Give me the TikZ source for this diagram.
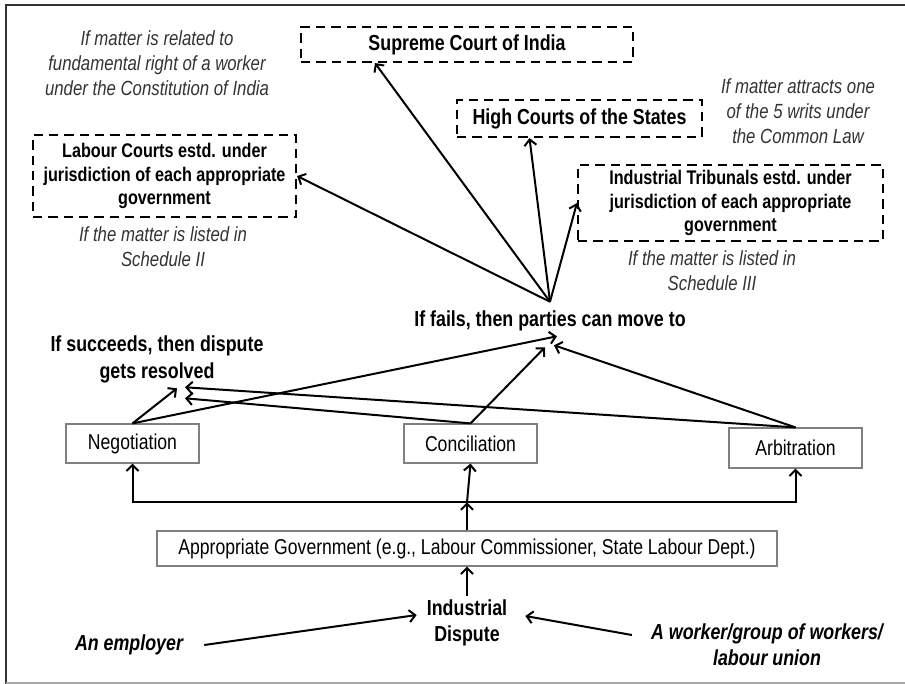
\documentclass[tikz,border=0pt]{standalone}
\usepackage{fontspec}
\setmainfont{Liberation Sans}[FakeStretch=0.82]
\usetikzlibrary{positioning, arrows.meta, calc}

\tikzset{
  court/.style={draw, dash pattern=on 7pt off 4.5pt, line width=1.6pt, inner sep=0pt,
                align=center, font=\bfseries\fontsize{16.3}{17.3}\selectfont},
  stage/.style={draw=black!50, line width=0.9pt, inner sep=0pt, minimum width=99.75pt,
                minimum height=29.25pt, font=\fontsize{16.1}{18}\selectfont},
  note/.style={align=center, inner sep=2pt, text=black!80,
               font=\itshape\fontsize{15.35}{18.75}\selectfont},
  head/.style={align=center, inner sep=3pt, font=\bfseries\fontsize{16.3}{20}\selectfont},
  flow/.style={line width=1.5pt, -{Straight Barb[length=4.5pt, width=9pt]}},
}

\begin{document}
\begin{tikzpicture}[x=0.75pt, y=-0.75pt]
  \useasboundingbox (0,0) rectangle (905,684);
  \draw[black!80, line width=1.5pt] (6,684) -- (6,5) -- (905,5);
  \draw[black!35, line width=1.2pt] (6,683) -- (905,683);

  % courts
  \node[court, minimum width=249pt, minimum height=26.25pt] (supreme) at (467,44.5) {Supreme Court of India};
  \node[court, minimum width=183.75pt, minimum height=27.75pt] (high) at (579.5,118.5) {High Courts of the States};
  \node[court, minimum width=197.25pt, minimum height=61.5pt, font=\bfseries\fontsize{14.8}{17.3}\selectfont]
    (labour) at (164.5,176) {Labour Courts estd. under\\jurisdiction of each appropriate\\government};
  \node[court, minimum width=228.75pt, minimum height=57pt, font=\bfseries\fontsize{14.8}{17.3}\selectfont]
    (tribunal) at (730.5,203) {Industrial Tribunals estd. under\\jurisdiction of each appropriate\\government};

  \node[note] (fundright) at (157,63) {If matter is related to\\fundamental right of a worker\\under the Constitution of India};
  \node[note] (schedtwo) at (163,246.5) {If the matter is listed in\\Schedule II};
  \node[note] (writs) at (798,111) {If matter attracts one\\of the 5 writs under\\the Common Law};
  \node[note] (schedthree) at (712,270.5) {If the matter is listed in\\Schedule III};

  \node[head, minimum height=28.5pt] (fails) at (550,321) {If fails, then parties can move to};
  \node[head] (success) at (157,359.5) {If succeeds, then dispute\\gets resolved};

  % settlement routes
  \node[stage] (negotiation) at (132.5,443.5) {Negotiation};
  \node[stage] (conciliation) at (470.5,443.5) {Conciliation};
  \node[stage, minimum height=30pt] (arbitration) at (795.5,448) {Arbitration};
  \node[stage, minimum width=465pt, minimum height=26.25pt] (govt) at (467,548.5)
    {Appropriate Government (e.g., Labour Commissioner, State Labour Dept.)};

  \node[head, font=\bfseries\fontsize{16.3}{19.5}\selectfont] (dispute) at (467,623) {Industrial\\Dispute};
  \node[head, font=\bfseries\itshape\fontsize{16.3}{19.5}\selectfont] (employer) at (129,645) {An employer};
  \node[head, font=\bfseries\itshape\fontsize{16.3}{19.5}\selectfont] (worker) at (767,645)
    {A worker/group of workers/\\labour union};

  \coordinate (split) at ($(govt.north)+(0,-28)$);

  \draw[flow] ($(employer.east)+(17,0)$) -- ($(dispute.west)+(-6,-8)$);
  \draw[flow] ($(worker.west)+(-15,-10)$) -- ($(dispute.east)+(14,-7)$);
  \draw[flow] (dispute.north) -- (govt.south);
  \draw[flow] (govt.north) -- (split);
  \draw[flow] (split) -- (conciliation.south);
  \draw[flow] (split) -| (negotiation.south);
  \draw[flow] (split) -| (arbitration.south);

  \draw[flow] (negotiation.north) -- ($(success.south)+(20,1)$);
  \draw[flow] (negotiation.north) -- ($(fails.south)+(7,-4)$);
  \draw[flow] (conciliation.north) -- ($(success.south)+(28,11)$);
  \draw[flow] (conciliation.north) -- ($(fails.south)+(-5,7)$);
  \draw[flow] (arbitration.north) -- ($(success.south)+(28,0)$);
  \draw[flow] (arbitration.north) -- ($(fails.south)+(4,5)$);

  \draw[flow] (fails.north) -- ($(supreme.south)+(-92,0)$);
  \draw[flow] (fails.north) -- (labour.east);
  \draw[flow] (fails.north) -- ($(high.south)+(-50,0)$);
  \draw[flow] (fails.north) -- (tribunal.west);
\end{tikzpicture}
\end{document}
